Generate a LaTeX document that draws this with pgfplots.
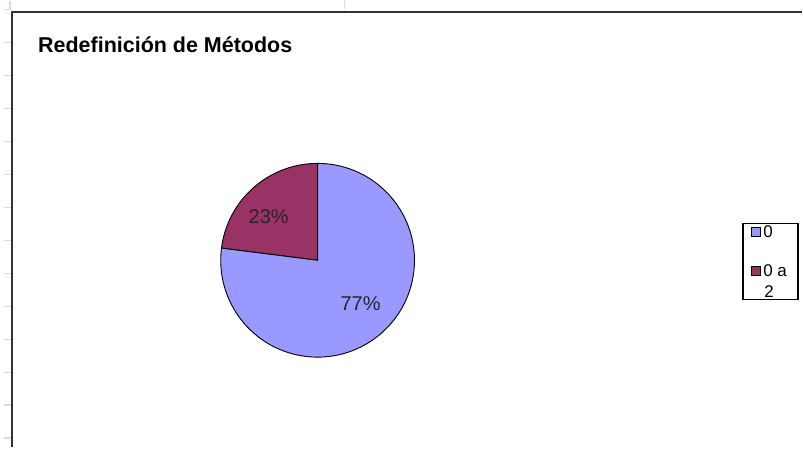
\documentclass[border=0pt]{standalone}
\usepackage{pgfplots}
\usepackage{pgfplotstable}
\pgfplotsset{compat=1.18}
\usepackage{fontspec}
\setmainfont{Liberation Sans}
\definecolor{sliceblue}{HTML}{9999FF}
\definecolor{slicered}{HTML}{993366}
\definecolor{frame}{HTML}{333333}
\definecolor{ruler}{HTML}{D3DAE4}
\pgfplotstableread[col sep=comma]{
label,value
0,77
0 a 2,23
}\piedata
\begin{document}
\begin{tikzpicture}
\pgfplotstablegetelem{0}{value}\of\piedata \edef\va{\pgfplotsretval}
\pgfplotstablegetelem{1}{value}\of\piedata \edef\vb{\pgfplotsretval}
\begin{axis}[
  scale only axis, width=803pt, height=447pt,
  xmin=0, xmax=803, ymin=0, ymax=447,
  hide axis, clip=false,
]
\path (axis cs:0,0) rectangle (axis cs:803,447);
% ruler ticks
\pgfplotsinvokeforeach{9,42,75,108,141,174,207,240,273,306,339,372,405,438}{
  \draw[ruler, line width=1.2pt] (axis cs:4,447-#1) -- (axis cs:11,447-#1);
}
\draw[ruler, line width=1.2pt] (axis cs:10,447) -- (axis cs:10,439);
\draw[ruler, line width=1.2pt] (axis cs:345,447) -- (axis cs:345,439);
% frame
\draw[frame, line width=2pt] (axis cs:12,0) -- (axis cs:12,436) -- (axis cs:803,436);
% title
\node[anchor=base west, inner sep=0pt, font=\fontsize{21.5}{25}\selectfont\bfseries] at (axis cs:38,395) {Redefinición de Métodos};
% pie
\fill[fill=slicered, draw=black, line width=0.9pt] (axis cs:318,187) -- ++(90:97pt)
  arc[start angle=90, end angle={90+3.6*\vb}, radius=97pt] -- cycle;
\fill[fill=sliceblue, draw=black, line width=0.9pt] (axis cs:318,187) -- ++({90+3.6*\vb}:97pt)
  arc[start angle={90+3.6*\vb}, end angle=450, radius=97pt] -- cycle;
\node[font=\fontsize{20}{23}\selectfont, text=black!85] at (axis cs:269,231) {\vb\%};
\node[font=\fontsize{20}{23}\selectfont, text=black!85] at (axis cs:361,144) {\va\%};
% legend
\draw[black, line width=1.3pt, fill=white] (axis cs:744,447-223) rectangle (axis cs:799,447-299);
\draw[black, line width=0.8pt, fill=sliceblue] (axis cs:752.5,447-227.5) rectangle (axis cs:761.5,447-236.5);
\draw[black, line width=0.8pt, fill=slicered] (axis cs:752.5,447-266.5) rectangle (axis cs:761.5,447-275.5);
\node[anchor=base west, inner sep=0pt, font=\fontsize{17}{20}\selectfont] at (axis cs:764,447-237) {0};
\node[anchor=base west, inner sep=0pt, font=\fontsize{17}{20}\selectfont] at (axis cs:764,447-276) {0 a};
\node[anchor=base, inner sep=0pt, font=\fontsize{17}{20}\selectfont] at (axis cs:770,447-297) {2};
\end{axis}
\end{tikzpicture}
\end{document}
